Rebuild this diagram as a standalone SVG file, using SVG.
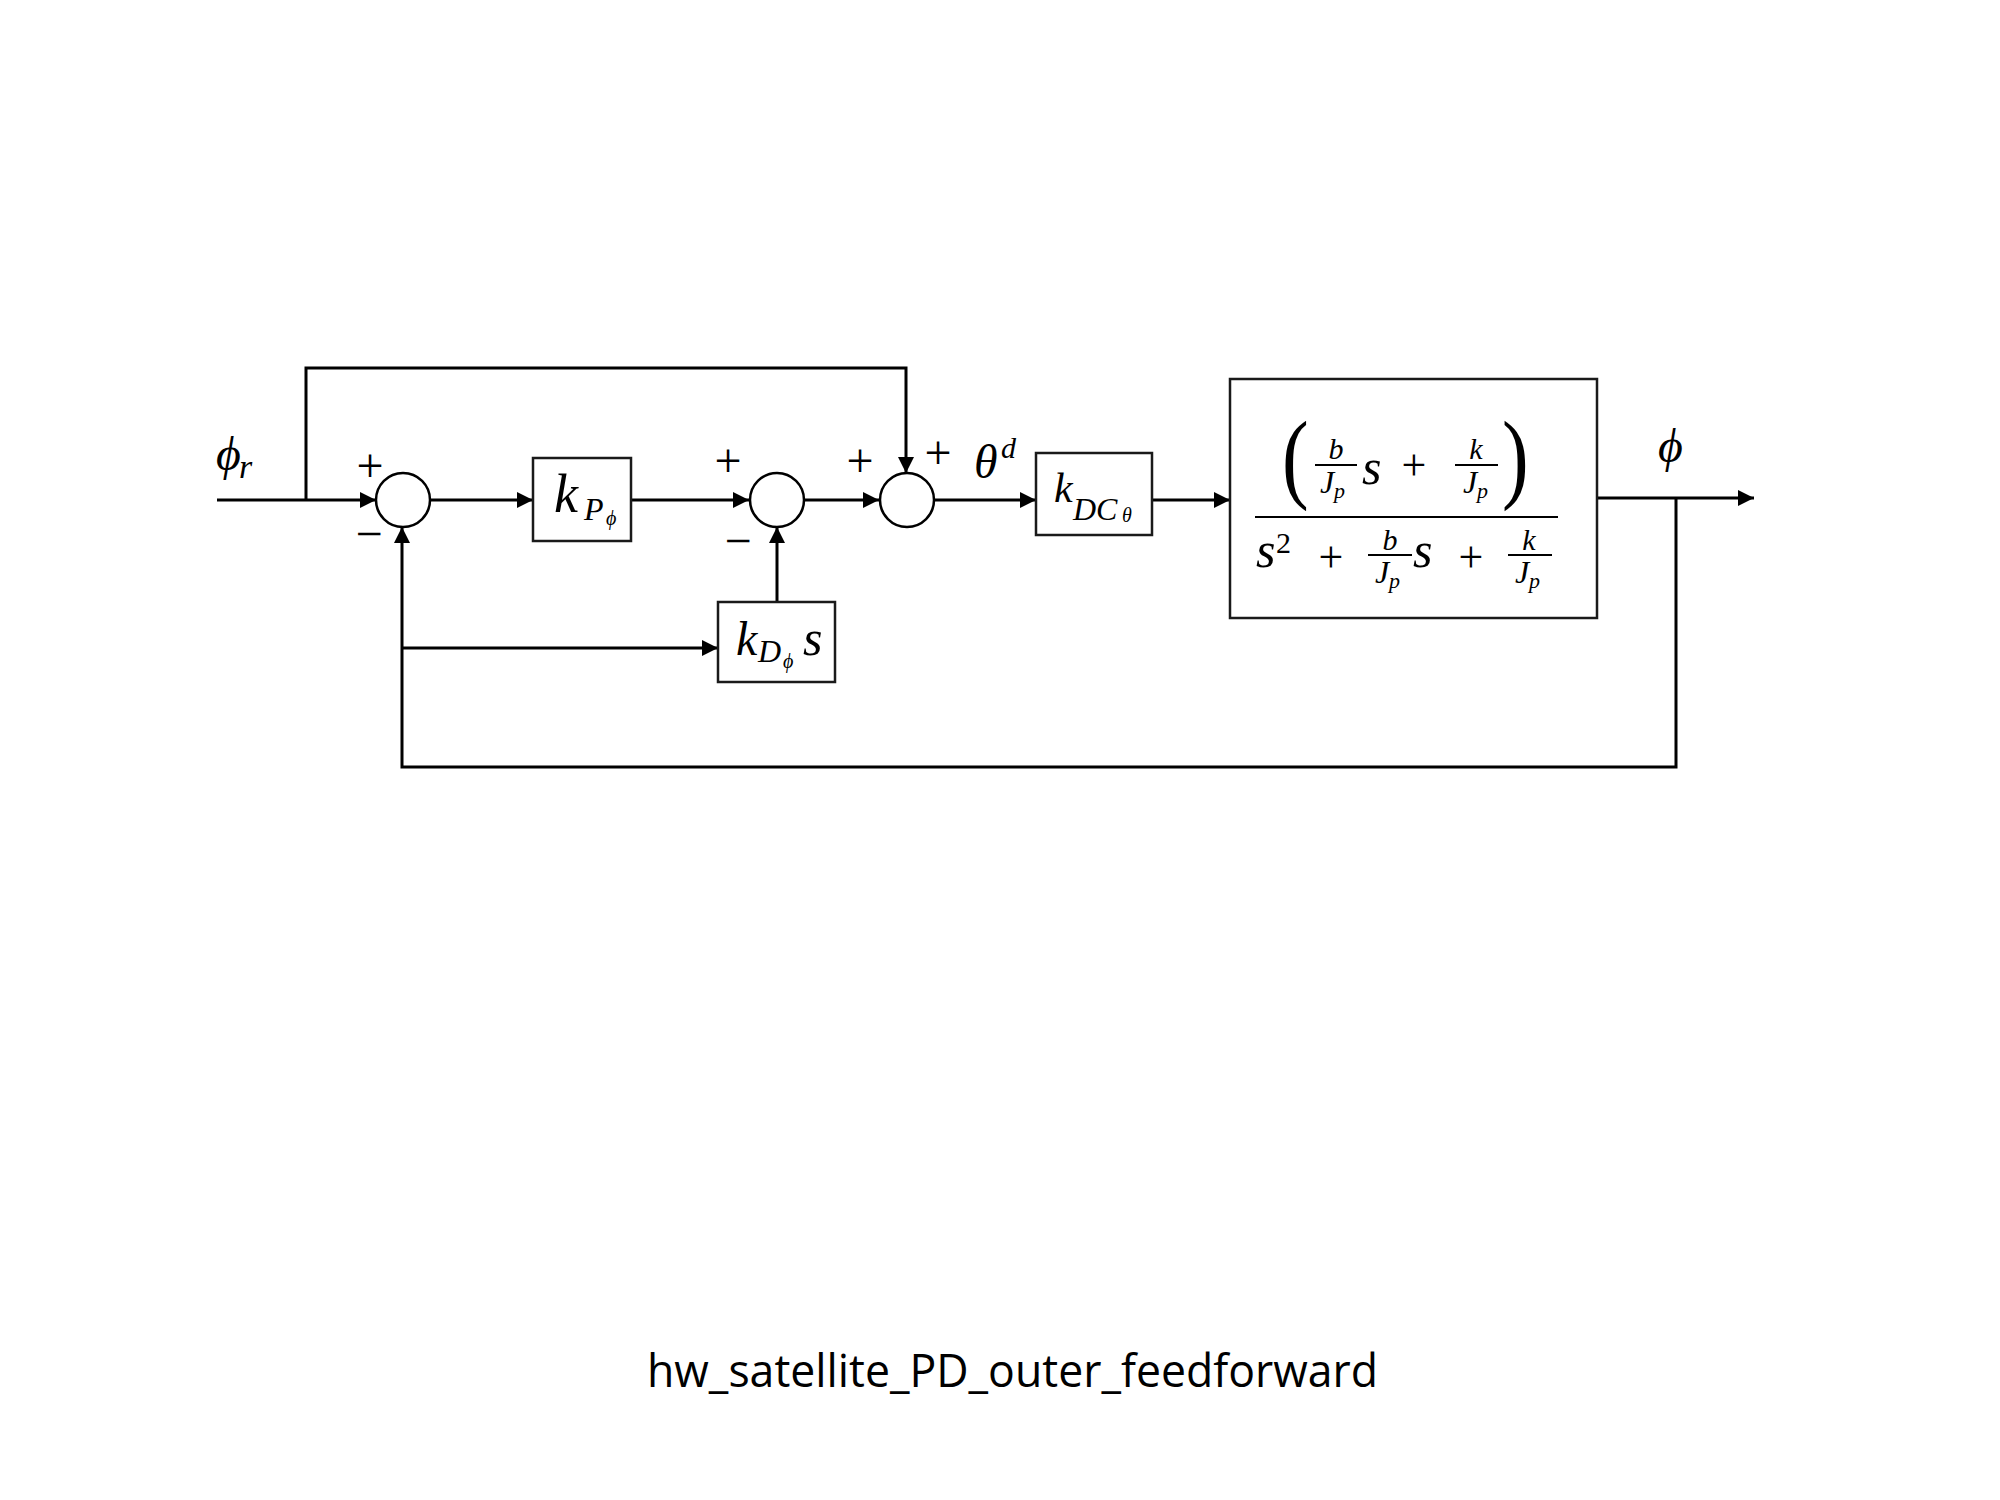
<svg xmlns="http://www.w3.org/2000/svg" width="2000" height="1500" viewBox="0 0 2000 1500">
  <style>
    .wire { fill: none; stroke: #000; stroke-width: 3; }
    .arrow { marker-end: url(#head); }
    .block { fill: #fff; stroke: #1a1a1a; stroke-width: 2.5; }
    .sum { fill: #fff; stroke: #000; stroke-width: 2.5; }
    .bar { stroke: #000; stroke-width: 2; }
    .m { font-family: "Liberation Serif", "DejaVu Serif", serif; font-style: italic; fill: #000; }
    .r { font-family: "Liberation Serif", "DejaVu Serif", serif; font-style: normal; fill: #000; }
    .sign { font-family: "Liberation Serif", "DejaVu Serif", serif; font-size: 48px; text-anchor: middle; fill: #000; }
    .caption { font-family: "Open Sans", "Liberation Sans", sans-serif; font-size: 46px; fill: #000; }
  </style>
  <defs>
    <marker id="head" markerUnits="userSpaceOnUse" markerWidth="16" markerHeight="16" refX="16" refY="8" orient="auto">
      <path d="M0,0 L16,8 L0,16 Z" fill="#000"/>
    </marker>
  </defs>

  <rect width="2000" height="1500" fill="#fff"/>

  <!-- signal lines -->
  <g id="connectors">
    <path class="wire arrow" d="M217,500 H376"/>
    <path class="wire arrow" d="M306,500 V368 H906 V473"/>
    <path class="wire arrow" d="M430,500 H533"/>
    <path class="wire arrow" d="M631,500 H749"/>
    <path class="wire arrow" d="M804,500 H879"/>
    <path class="wire arrow" d="M934,500 H1036"/>
    <path class="wire arrow" d="M1152,500 H1230"/>
    <path class="wire arrow" d="M1597,498 H1754"/>
    <path class="wire arrow" d="M1676,498 V767 H402 V527"/>
    <path class="wire arrow" d="M402,648 H718"/>
    <path class="wire arrow" d="M777,602 V527"/>
  </g>

  <!-- reference input label -->
  <g id="input-label">
    <text class="m" x="216" y="470" font-size="48">ϕ</text>
    <text class="m" x="239" y="478" font-size="34">r</text>
  </g>

  <!-- error summing junction -->
  <g id="sum1">
    <circle class="sum" cx="403" cy="500" r="27"/>
    <text class="sign" x="370" y="482">+</text>
    <text class="sign" x="369" y="550">−</text>
  </g>

  <!-- proportional gain -->
  <g id="kP">
    <rect class="block" x="533" y="458" width="98" height="83"/>
    <text class="m" x="554" y="512" font-size="54">k</text>
    <text class="m" x="584" y="520" font-size="32">P</text>
    <text class="m" x="606" y="525" font-size="20">ϕ</text>
  </g>

  <!-- derivative junction -->
  <g id="sum2">
    <circle class="sum" cx="777" cy="500" r="27"/>
    <text class="sign" x="728" y="477">+</text>
    <text class="sign" x="738" y="557">−</text>
  </g>

  <!-- derivative gain -->
  <g id="kD">
    <rect class="block" x="718" y="602" width="117" height="80"/>
    <text class="m" x="736" y="655" font-size="48">k</text>
    <text class="m" x="758" y="662" font-size="32">D</text>
    <text class="m" x="783" y="668" font-size="20">ϕ</text>
    <text class="m" x="803" y="655" font-size="50">s</text>
  </g>

  <!-- feedforward junction -->
  <g id="sum3">
    <circle class="sum" cx="907" cy="500" r="27"/>
    <text class="sign" x="860" y="477">+</text>
    <text class="sign" x="938" y="469">+</text>
  </g>

  <!-- commanded inner angle -->
  <g id="theta-label">
    <text class="m" x="974" y="478" font-size="48">θ</text>
    <text class="m" x="1001" y="458" font-size="30">d</text>
  </g>

  <!-- DC gain block -->
  <g id="kDC">
    <rect class="block" x="1036" y="453" width="116" height="82"/>
    <text class="m" x="1054" y="502" font-size="42">k</text>
    <text class="m" x="1073" y="520" font-size="32">DC</text>
    <text class="m" x="1122" y="522" font-size="20">θ</text>
  </g>

  <!-- outer plant transfer function -->
  <g id="plant">
    <rect class="block" x="1230" y="379" width="367" height="239"/>
    <!-- numerator -->
    <text class="r" transform="translate(1282,490) scale(0.8,1)" font-size="100">(</text>
    <text class="m" x="1336" y="459" font-size="30" text-anchor="middle">b</text>
    <line class="bar" x1="1315" y1="465" x2="1357" y2="465"/>
    <text class="m" x="1320" y="493" font-size="32">J</text>
    <text class="m" x="1334" y="498" font-size="22">p</text>
    <text class="m" x="1362" y="484" font-size="50">s</text>
    <text class="r" x="1414" y="480" font-size="44" text-anchor="middle">+</text>
    <text class="m" x="1476" y="459" font-size="30" text-anchor="middle">k</text>
    <line class="bar" x1="1455" y1="465" x2="1498" y2="465"/>
    <text class="m" x="1463" y="493" font-size="32">J</text>
    <text class="m" x="1477" y="498" font-size="22">p</text>
    <text class="r" transform="translate(1502,490) scale(0.8,1)" font-size="100">)</text>
    <!-- main fraction bar -->
    <line class="bar" x1="1255" y1="517" x2="1558" y2="517" stroke-width="2.5"/>
    <!-- denominator -->
    <text class="m" x="1256" y="567" font-size="50">s</text>
    <text class="r" x="1276" y="553" font-size="30">2</text>
    <text class="r" x="1331" y="572" font-size="44" text-anchor="middle">+</text>
    <text class="m" x="1390" y="550" font-size="30" text-anchor="middle">b</text>
    <line class="bar" x1="1368" y1="555" x2="1412" y2="555"/>
    <text class="m" x="1375" y="583" font-size="32">J</text>
    <text class="m" x="1389" y="588" font-size="22">p</text>
    <text class="m" x="1413" y="567" font-size="50">s</text>
    <text class="r" x="1471" y="572" font-size="44" text-anchor="middle">+</text>
    <text class="m" x="1529" y="550" font-size="30" text-anchor="middle">k</text>
    <line class="bar" x1="1508" y1="555" x2="1552" y2="555"/>
    <text class="m" x="1515" y="583" font-size="32">J</text>
    <text class="m" x="1529" y="588" font-size="22">p</text>
  </g>

  <!-- output label -->
  <g id="output-label">
    <text class="m" x="1658" y="462" font-size="48">ϕ</text>
  </g>

  <text class="caption" x="647" y="1387" textLength="731" lengthAdjust="spacingAndGlyphs">hw_satellite_PD_outer_feedforward</text>
</svg>
